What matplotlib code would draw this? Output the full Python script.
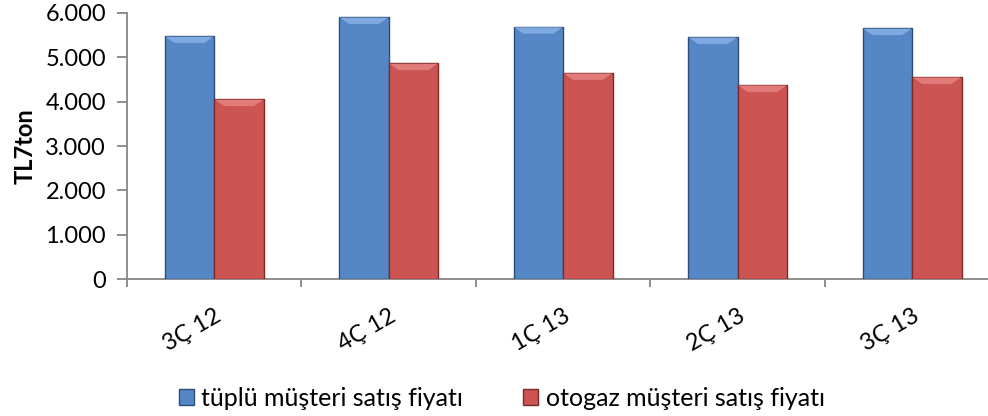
import numpy as np
import matplotlib
matplotlib.use('Agg')
import matplotlib.pyplot as plt
from matplotlib.patches import Patch

plt.rcParams['font.family'] = ['Lato', 'DejaVu Sans']

# veri
ceyrekler = ['3Ç 12', '4Ç 12', '1Ç 13', '2Ç 13', '3Ç 13']
tuplu = [5480, 5910, 5690, 5460, 5660]
otogaz = [4060, 4870, 4650, 4380, 4560]
seri_adlari = ['tüplü müşteri satış fiyatı', 'otogaz müşteri satış fiyatı']
y_ticks = [0, 1000, 2000, 3000, 4000, 5000, 6000]
y_tick_labels = ['0', '1.000', '2.000', '3.000', '4.000', '5.000', '6.000']

fs = 17

fig = plt.figure(figsize=(9.88, 4.16), dpi=100)
ax = fig.add_axes([0.1285, 0.329, 0.883, 0.64])

x = np.arange(len(ceyrekler))
w = 0.284

b1 = ax.bar(x - w/2, tuplu, w, color='#5587c6', edgecolor='#2c4d75', linewidth=1.0, zorder=3)
b2 = ax.bar(x + w/2, otogaz, w, color='#cc5553', edgecolor='#7a2b29', linewidth=1.0, zorder=3)

# üst kenarda açık renkli bevel
for bars, c in [(b1, '#7fa9e0'), (b2, '#e27c7a')]:
    for r in bars:
        x0 = r.get_x()
        bw = r.get_width()
        h = r.get_height()
        band = 160
        ax.fill([x0 + 0.004, x0 + bw - 0.004, x0 + bw * 0.8, x0 + bw * 0.2],
                [h - 15, h - 15, h - band, h - band], color=c, zorder=4, lw=0)

ax.set_xlim(-0.5, 4.5)
ax.set_ylim(0, 6000)
ax.set_yticks(y_ticks)
ax.set_yticklabels(y_tick_labels, fontsize=fs)
ax.set_xticks(np.arange(-0.5, 5, 1))
ax.set_xticklabels([])
ax.set_xticks(x, minor=True)
ax.set_xticklabels(ceyrekler, minor=True, rotation=30, ha='right',
                   rotation_mode='anchor', fontsize=fs)
ax.tick_params(axis='x', which='minor', length=0, pad=19)
ax.tick_params(axis='x', which='major', length=6, color='#868686', width=1.3)
ax.tick_params(axis='y', length=7, color='#868686', width=1.3, pad=8)

for s in ['top', 'right']:
    ax.spines[s].set_visible(False)
for s in ['left', 'bottom']:
    ax.spines[s].set_color('#868686')
    ax.spines[s].set_linewidth(1.3)

ax.set_ylabel('TL7ton', fontsize=fs, fontweight='bold')
ax.yaxis.set_label_coords(-0.104, 0.5)

handles = [Patch(facecolor='#5587c6', edgecolor='#2c4d75'),
           Patch(facecolor='#cc5553', edgecolor='#7a2b29')]
fig.legend(handles, seri_adlari, loc='center', bbox_to_anchor=(0.508, 0.043),
           ncol=2, frameon=False, fontsize=18, handlelength=0.6,
           handleheight=0.6, handletextpad=0.3, columnspacing=2.4)

fig.savefig('out.png', dpi=100)
